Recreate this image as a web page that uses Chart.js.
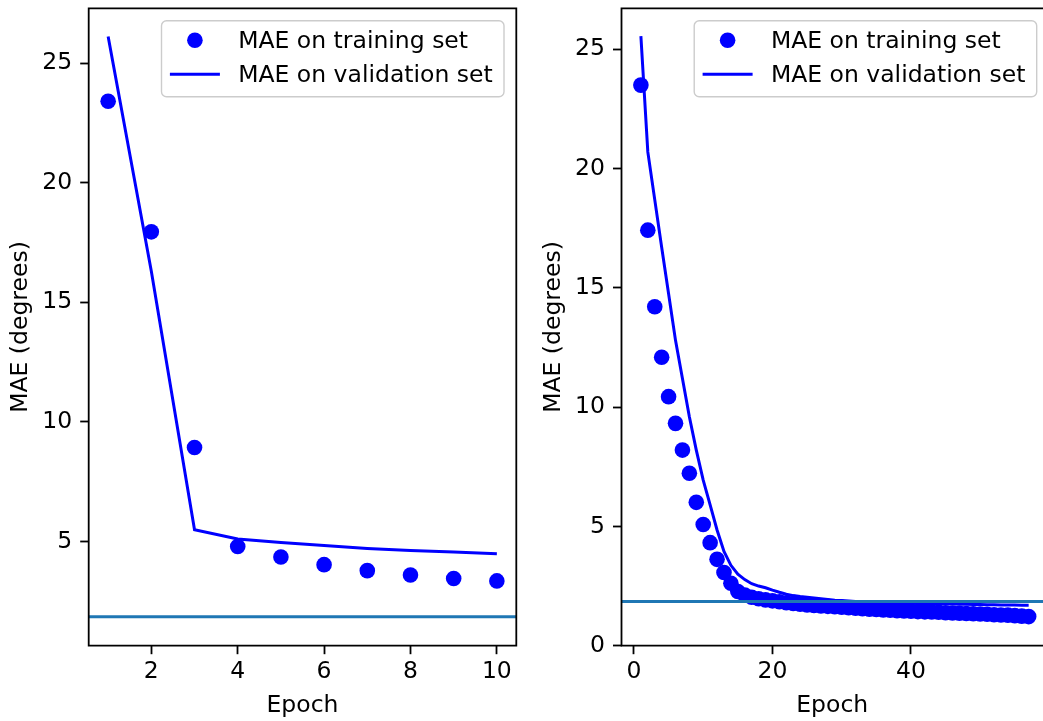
<!DOCTYPE html>
<html>
<head>
<meta charset="utf-8">
<script src="https://cdn.jsdelivr.net/npm/chart.js@4"></script>
<style>
html, body { margin: 0; padding: 0; background: #fff; overflow: hidden; width: 1043px; height: 721px; }
canvas { position: absolute; top: 0; }
#left { left: 0; }
#right { left: 530px; }
</style>
</head>
<body>
<canvas id="left" width="530" height="721"></canvas>
<canvas id="right" width="513" height="721"></canvas>
<script>
// left panel: first 10 epochs
const epochsLeft = [1, 2, 3, 4, 5, 6, 7, 8, 9, 10];
const trainLeft = [23.41, 17.95, 8.93, 4.79, 4.35, 4.03, 3.78, 3.60, 3.45, 3.35];
const valLeft = [26.12, 16.3, 5.49, 5.10, 4.96, 4.83, 4.71, 4.62, 4.56, 4.49];

// right panel: 57 epochs
const epochsRight = [1, 2, 3, 4, 5, 6, 7, 8, 9, 10, 11, 12, 13, 14, 15, 16, 17, 18, 19, 20,
  21, 22, 23, 24, 25, 26, 27, 28, 29, 30, 31, 32, 33, 34, 35, 36, 37, 38, 39, 40,
  41, 42, 43, 44, 45, 46, 47, 48, 49, 50, 51, 52, 53, 54, 55, 56, 57];
const trainRight = [23.5, 17.42, 14.21, 12.09, 10.44, 9.32, 8.2, 7.23, 6.01, 5.08,
  4.32, 3.62, 3.07, 2.62, 2.27, 2.12, 2.03, 1.97, 1.92, 1.88,
  1.84, 1.80, 1.77, 1.74, 1.71, 1.69, 1.67, 1.65, 1.63, 1.61,
  1.59, 1.57, 1.55, 1.53, 1.52, 1.50, 1.49, 1.47, 1.46, 1.45,
  1.43, 1.42, 1.41, 1.40, 1.38, 1.37, 1.36, 1.35, 1.34, 1.33,
  1.32, 1.30, 1.29, 1.28, 1.26, 1.24, 1.22];
const valRight = [25.55, 20.7, 18.7, 16.7, 14.75, 12.8, 11.2, 9.6, 8.2, 6.94,
  5.9, 4.85, 3.95, 3.37, 3.0, 2.77, 2.6, 2.5, 2.43, 2.33,
  2.24, 2.16, 2.1, 2.06, 2.03, 2.0, 1.97, 1.94, 1.91, 1.89,
  1.87, 1.85, 1.84, 1.83, 1.82, 1.81, 1.80, 1.79, 1.79, 1.78,
  1.77, 1.77, 1.76, 1.76, 1.75, 1.75, 1.74, 1.74, 1.73, 1.73,
  1.72, 1.72, 1.71, 1.71, 1.71, 1.70, 1.70];

const baseline = [1.85, 1.85];
const xTicksLeft = [2, 4, 6, 8, 10];
const yTicksLeft = [5, 10, 15, 20, 25];
const xTicksRight = [0, 20, 40];
const yTicksRight = [0, 5, 10, 15, 20, 25];

const labels = ['MAE on training set', 'MAE on validation set'];
const BLUE = '#0000ff';
const FONT = 'DejaVu Sans';
const FONT_SIZE = 23.5;

Chart.defaults.color = '#000';
Chart.defaults.font.family = FONT;
Chart.defaults.font.size = FONT_SIZE;

function drawLegend(chart, inset) {
  const { ctx, chartArea: a } = chart;
  const ds = chart.data.datasets;
  ctx.save();
  ctx.font = FONT_SIZE + 'px "' + FONT + '"';
  const tw = Math.max(...ds.map(d => ctx.measureText(d.label).width));
  const w = 77 + tw + 11, h = 76;
  const x0 = a.right - inset - w, y0 = a.top + 12.4;
  ctx.fillStyle = 'rgba(255,255,255,0.8)';
  ctx.strokeStyle = '#cccccc';
  ctx.lineWidth = 1.4;
  ctx.beginPath();
  ctx.roundRect(x0, y0, w, h, 5);
  ctx.fill();
  ctx.stroke();
  ds.forEach((d, i) => {
    const cy = y0 + 19.5 + i * 34;
    if (d.showLine) {
      ctx.strokeStyle = d.borderColor;
      ctx.lineWidth = d.borderWidth;
      ctx.beginPath();
      ctx.moveTo(x0 + 8.4, cy);
      ctx.lineTo(x0 + 58.4, cy);
      ctx.stroke();
    } else {
      ctx.fillStyle = d.pointBackgroundColor;
      ctx.beginPath();
      ctx.arc(x0 + 33.4, cy, d.pointRadius, 0, Math.PI * 2);
      ctx.fill();
    }
    ctx.fillStyle = '#000';
    ctx.textBaseline = 'alphabetic';
    ctx.fillText(d.label, x0 + 76.7, cy + 8.2);
  });
  ctx.restore();
}

const framePlugin = {
  id: 'frame',
  afterDatasetsDraw(chart, args, opts) {
    const { ctx, chartArea: a } = chart;
    const y = chart.scales.y.getPixelForValue(opts.baseline);
    ctx.save();
    ctx.strokeStyle = '#1f77b4';
    ctx.lineWidth = 3;
    ctx.beginPath();
    ctx.moveTo(a.left, y);
    ctx.lineTo(a.right, y);
    ctx.stroke();
    ctx.strokeStyle = '#000';
    ctx.lineWidth = 1.8;
    ctx.beginPath();
    ctx.moveTo(a.right, a.top);
    ctx.lineTo(a.left, a.top);
    ctx.lineTo(a.left, a.bottom);
    ctx.lineTo(a.right, a.bottom);
    if (opts.rightSpine) ctx.closePath();
    ctx.stroke();
    ctx.restore();
    drawLegend(chart, opts.legendInset);
  }
};

function makeChart(id, cfg) {
  const pts = (ys) => cfg.epochs.map((x, i) => ({ x: x, y: ys[i] }));
  return new Chart(document.getElementById(id), {
    type: 'scatter',
    data: {
      datasets: [{
        label: labels[0],
        data: pts(cfg.train),
        showLine: false,
        pointRadius: 7.8,
        pointBackgroundColor: BLUE,
        pointBorderWidth: 0
      }, {
        label: labels[1],
        data: pts(cfg.val),
        showLine: true,
        borderColor: BLUE,
        borderWidth: 3,
        pointRadius: 0,
        tension: 0
      }]
    },
    plugins: [framePlugin],
    options: {
      responsive: false,
      animation: false,
      events: [],
      layout: { autoPadding: false, padding: { top: 8.3, right: cfg.padRight, left: 0, bottom: 0 } },
      plugins: {
        legend: { display: false },
        tooltip: { enabled: false },
        frame: { baseline: cfg.baseline, rightSpine: cfg.rightSpine, legendInset: cfg.legendInset }
      },
      scales: {
        x: {
          type: 'linear',
          min: cfg.xmin, max: cfg.xmax,
          border: { display: false },
          grid: { drawOnChartArea: false, drawTicks: true, tickLength: 8.5, tickColor: '#000', tickWidth: 1.8 },
          ticks: { padding: 4, maxRotation: 0, autoSkip: false },
          title: { display: true, text: 'Epoch', padding: { top: 0, bottom: 1.5 } },
          afterBuildTicks: s => { s.ticks = cfg.xTicks.map(v => ({ value: v })); },
          afterFit: s => { s.height = 75.3; s.paddingLeft = 0; s.paddingRight = 0; }
        },
        y: {
          type: 'linear',
          min: cfg.ymin, max: cfg.ymax,
          border: { display: false },
          grid: { drawOnChartArea: false, drawTicks: true, tickLength: 8.5, tickColor: '#000', tickWidth: 1.8 },
          ticks: { padding: 8, autoSkip: false },
          title: { display: true, text: 'MAE (degrees)', padding: { top: cfg.titlePad, bottom: 0 } },
          afterBuildTicks: s => { s.ticks = cfg.yTicks.map(v => ({ value: v })); },
          afterFit: s => { s.width = cfg.yWidth; s.paddingTop = 0; s.paddingBottom = 0; }
        }
      }
    }
  });
}

makeChart('left', {
  epochs: epochsLeft, train: trainLeft, val: valLeft, baseline: baseline[0],
  xmin: 0.55, xmax: 10.45, ymin: 0.64, ymax: 27.3,
  xTicks: xTicksLeft, yTicks: yTicksLeft,
  yWidth: 88.7, padRight: 13.7, titlePad: 7.2,
  rightSpine: true, legendInset: 12.3
});

// the right axes run past the window edge, so only the visible part is drawn
makeChart('right', {
  epochs: epochsRight, train: trainRight, val: valRight, baseline: baseline[1],
  xmin: -1.8, xmax: 59.07, ymin: 0, ymax: 26.72,
  xTicks: xTicksRight, yTicks: yTicksRight,
  yWidth: 91.5, padRight: 0, titlePad: 10.2,
  rightSpine: false, legendInset: 6.3
});
</script>
</body>
</html>
